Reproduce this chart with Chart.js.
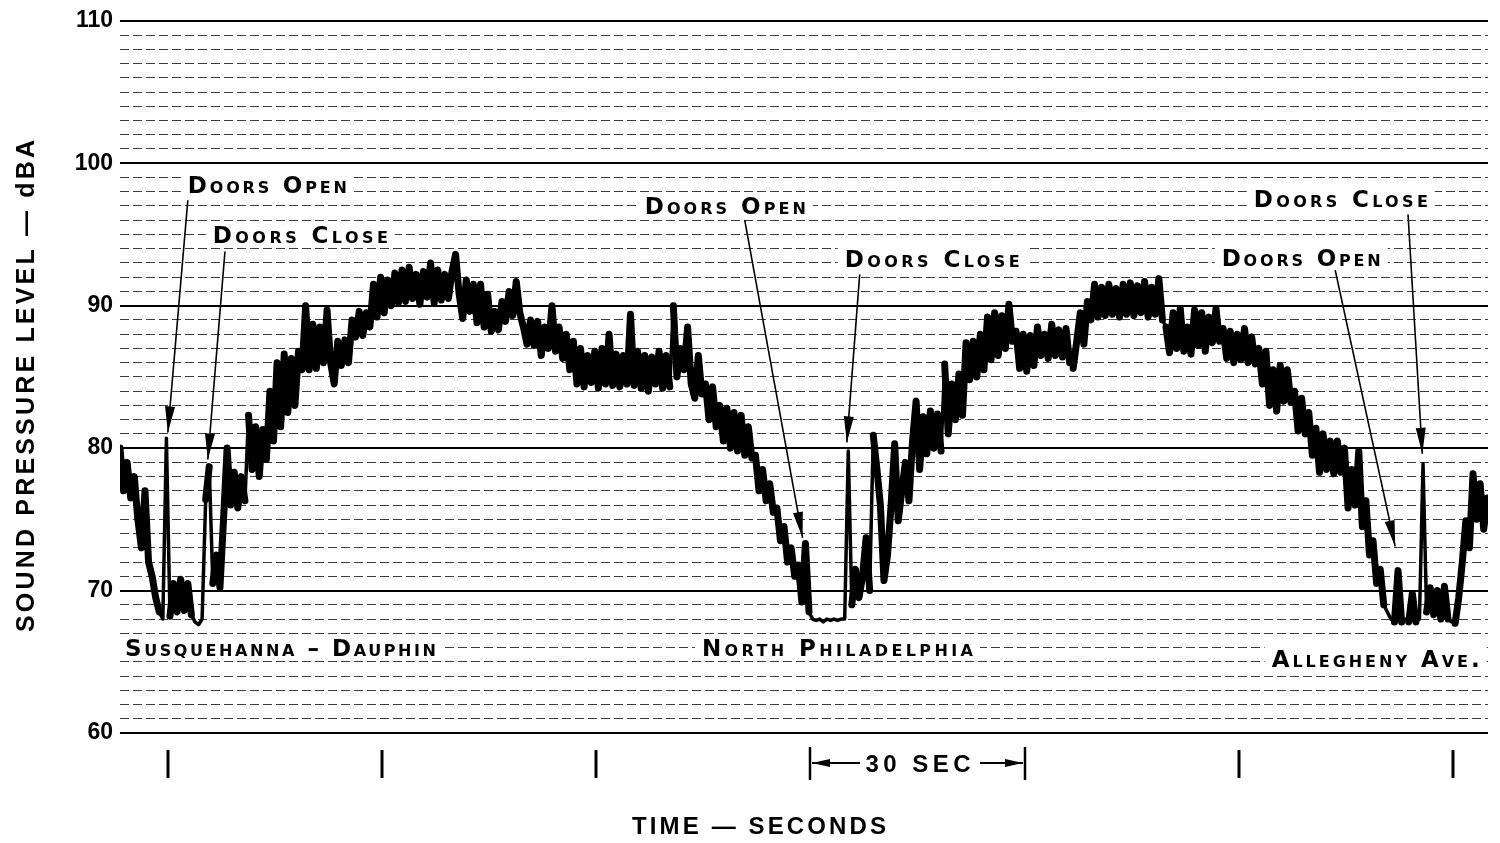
<!DOCTYPE html>
<html>
<head>
<meta charset="utf-8">
<script src="https://cdn.jsdelivr.net/npm/chart.js@4.4.1/dist/chart.umd.min.js"></script>
<style>
  html, body { margin: 0; padding: 0; background: #fff; }
</style>
</head>
<body>
<canvas id="chart" width="1500" height="843"></canvas>
<script>
// ! DATA — sound level, one reading every half second
const sampleStep = 0.5;
const splDba = [
  80, 77, 79, 76.5, 78, 75, 73, 77, 72, 71, 69.5, 68.5, 68, 80.7, 68.2, 70.5, 68.5, 70.8, 68.6, 70.5,
  68.3, 67.8, 67.6, 68, 76.4, 78.7, 70.5, 72.5, 70.2, 75, 80, 76, 78.3, 75.8, 78, 76.3, 82.3, 78.5, 81.5, 78,
  81.3, 79.2, 84, 80.5, 86, 81.5, 86.6, 82.5, 86.3, 83, 86.8, 85.5, 90, 85.5, 88.7, 85.6, 88.5, 86, 89.7, 86,
  84.5, 87.5, 85.8, 87.6, 86, 89, 87.8, 89.6, 87.9, 89.5, 88.5, 91.5, 89.2, 92, 89.5, 91.8, 90, 92.3, 90.2, 92.5,
  90.3, 92.7, 90.5, 92.2, 90.1, 92.4, 90.6, 93, 90.2, 92.5, 90.4, 92.2, 90.5, 92.4, 93.6, 90.8, 89.1, 91.8, 89.6, 91.5,
  88.8, 91.5, 88.5, 90.8, 88.2, 89.6, 88.3, 90.3, 88.9, 91, 89.3, 91.7, 89.5, 88.5, 87.3, 89, 87.2, 88.9, 86.5, 88.5,
  87, 90, 86.8, 88.5, 86.3, 88, 85.5, 87.5, 84.5, 87, 84.3, 86.5, 84.6, 86.8, 84.2, 87, 84.5, 88, 84.4, 86.6,
  84.3, 86.5, 84.5, 89.4, 84.4, 86.8, 84.2, 86.5, 84, 86.4, 84.5, 86.8, 84.2, 86.5, 84.3, 90, 85, 87, 85.5, 88.5,
  84.5, 83.5, 86.5, 83.8, 84.5, 82, 84.3, 81.5, 83, 80.5, 82.8, 80, 82.5, 79.8, 82.3, 79.5, 81.5, 79.3, 79.5, 77,
  78.5, 76.3, 77.5, 75.5, 75.8, 73.5, 74.5, 72, 73, 71, 71.8, 69.2, 73.3, 68.5, 68, 67.9, 68, 67.8, 68, 67.9,
  68, 67.9, 68, 68, 79.8, 69, 71.5, 69.5, 71, 73.7, 70, 80.9, 78.6, 76, 70.7, 72.5, 76, 80.3, 74.9, 77,
  79, 76.3, 80.5, 83.3, 78.5, 82.2, 79.6, 82.6, 80, 82.4, 79.8, 85.9, 81, 84.5, 82, 85.2, 82.3, 87.4, 84.8, 87.5,
  85, 88, 85.5, 89.2, 86.2, 89.5, 86.5, 89.3, 87, 90.1, 87.5, 88.2, 85.6, 88, 85.4, 87.9, 85.8, 88.5, 86.5, 88,
  86.3, 88.7, 86.5, 88.3, 86.4, 88.4, 86, 85.6, 87.5, 89.5, 87.3, 90.3, 89, 91.5, 89.2, 91.3, 89.3, 91.5, 89.4, 91.2,
  89.2, 91.5, 89.4, 91.6, 89.3, 91.4, 89.5, 91.7, 89.2, 91.3, 89.4, 91.9, 89, 88.5, 86.7, 89.5, 87, 89.8, 86.8, 88.5,
  86.6, 89.7, 87.2, 89.5, 86.8, 89.2, 87.4, 89.8, 87.5, 88.4, 86.3, 88.2, 86, 88, 86.2, 88.4, 86, 87.8, 85.9, 87,
  84.5, 86.8, 83, 85.5, 82.6, 85.8, 83.3, 85.5, 83.2, 84, 81.2, 83.5, 81, 82.5, 79.5, 81.4, 78.3, 81, 78.5, 80.5,
  78.2, 80.5, 78.3, 80, 75.8, 78.5, 76, 79.8, 74.5, 76.3, 72.5, 73.5, 70.5, 71.5, 69, 68.5, 68, 67.8, 71.4, 67.8,
  68, 67.8, 69.8, 67.8, 68, 78.9, 68.5, 70.2, 68.3, 70, 68, 70.3, 68, 67.8, 67.7, 69.5, 72, 74.9, 73, 78.2,
  75, 77.5, 74.3, 76.5
];

// ! AXIS CONSTANTS
const timeRange = [0, 191.6];
const levelRange = [60, 110];
const tickMarkTimes = [6.7, 36.7, 66.7, 156.7, 186.7];
const bracketTimes = [96.7, 126.7];

// ! LABELS (text, time, level, width in px)
const doorLabels = [
  { text: "Doors Open", t: 9.5, db: 98.5, w: 159 },
  { text: "Doors Close", t: 13.0, db: 95.0, w: 175 },
  { text: "Doors Open", t: 73.5, db: 97.0, w: 161 },
  { text: "Doors Close", t: 101.5, db: 93.3, w: 175 },
  { text: "Doors Close", t: 158.8, db: 97.5, w: 174 },
  { text: "Doors Open", t: 154.3, db: 93.4, w: 159 },
];
const doorArrows = [
  { from: [9.5, 97.4], to: [6.7, 81.1] },
  { from: [14.7, 93.8], to: [12.3, 79.2] },
  { from: [87.5, 96.0], to: [95.6, 73.7] },
  { from: [103.6, 92.2], to: [101.8, 80.4] },
  { from: [180.4, 96.4], to: [182.4, 79.6] },
  { from: [170.2, 92.5], to: [178.6, 73.1] },
];
const stationLabels = [
  { text: "Susquehanna – Dauphin", t: 0.7, db: 66.0, w: 311 },
  { text: "North Philadelphia", t: 81.5, db: 66.0, w: 271 },
  { text: "Allegheny Ave.", t: 161.3, db: 65.25, w: 208 },
];

const NUM_FONT = '"Liberation Sans", Arial, sans-serif';
const LETTER_FONT = '"DejaVu Sans", sans-serif';

// ! HELPERS
function spacedText(ctx, text, x, y, width) {
  ctx.letterSpacing = "0px";
  const natural = ctx.measureText(text).width;
  const gap = text.length > 1 ? (width - natural) / (text.length - 1) : 0;
  ctx.letterSpacing = gap + "px";
  ctx.textAlign = "left";
  ctx.fillText(text, x, y);
  ctx.letterSpacing = "0px";
}

function arrow(ctx, x1, y1, x2, y2, len, half) {
  ctx.beginPath();
  ctx.moveTo(x1, y1);
  ctx.lineTo(x2, y2);
  ctx.stroke();
  const a = Math.atan2(y2 - y1, x2 - x1);
  const bx = x2 - len * Math.cos(a);
  const by = y2 - len * Math.sin(a);
  ctx.beginPath();
  ctx.moveTo(x2, y2);
  ctx.lineTo(bx + half * Math.sin(a), by - half * Math.cos(a));
  ctx.lineTo(bx - half * Math.sin(a), by + half * Math.cos(a));
  ctx.closePath();
  ctx.fill();
}

// noisy band swings get a heavy pen, spikes and flat runs a thin one
function penWidth(c) {
  const d = Math.abs(c.p1.parsed.y - c.p0.parsed.y);
  return d < 0.8 || d > 5.5 ? 3.5 : 7;
}

// ! ANNOTATION PLUGIN
const stripNotes = {
  id: "stripNotes",
  afterDraw(chart) {
    const { ctx, chartArea } = chart;
    const xs = chart.scales.x;
    const ys = chart.scales.y;
    const bottom = chartArea.bottom;
    ctx.save();
    ctx.fillStyle = "#000";
    ctx.strokeStyle = "#000";

    // tick marks under the chart
    ctx.lineWidth = 3;
    tickMarkTimes.forEach((t) => {
      const px = Math.round(xs.getPixelForValue(t));
      ctx.beginPath();
      ctx.moveTo(px, bottom + 17);
      ctx.lineTo(px, bottom + 45);
      ctx.stroke();
    });

    // 30 SEC bracket
    const bx1 = Math.round(xs.getPixelForValue(bracketTimes[0]));
    const bx2 = Math.round(xs.getPixelForValue(bracketTimes[1]));
    const by = bottom + 30;
    ctx.lineWidth = 2.5;
    [bx1, bx2].forEach((px) => {
      ctx.beginPath();
      ctx.moveTo(px, bottom + 14);
      ctx.lineTo(px, bottom + 47);
      ctx.stroke();
    });
    ctx.lineWidth = 2;
    arrow(ctx, bx1 + 50, by, bx1 + 2, by, 18, 4);
    arrow(ctx, bx2 - 45, by, bx2 - 2, by, 18, 4);
    ctx.font = "bold 24px " + NUM_FONT;
    ctx.textBaseline = "alphabetic";
    spacedText(ctx, "30 SEC", (bx1 + bx2) / 2 - 52, by + 8.5, 105);

    // axis titles
    ctx.font = "bold 24px " + NUM_FONT;
    spacedText(ctx, "TIME — SECONDS", 632, 834, 254);
    ctx.save();
    ctx.translate(25, 386);
    ctx.rotate(-Math.PI / 2);
    ctx.font = "bold 25px " + NUM_FONT;
    spacedText(ctx, "SOUND PRESSURE LEVEL — dBA", -246, 9, 492);
    ctx.restore();

    // labels with white ground
    const size = 23;
    const capH = size * 0.73;
    ctx.font = "small-caps bold " + size + "px " + LETTER_FONT;
    ctx.fontVariantCaps = "small-caps";
    doorLabels.concat(stationLabels).forEach((l) => {
      const px = xs.getPixelForValue(l.t);
      const py = ys.getPixelForValue(l.db);
      ctx.fillStyle = "#fff";
      ctx.fillRect(px - 7, py - capH / 2 - 4, l.w + 14, capH + 8);
      ctx.fillStyle = "#000";
      spacedText(ctx, l.text, px, py + capH / 2, l.w);
    });
    ctx.fontVariantCaps = "normal";

    // arrows to the door events
    ctx.lineWidth = 1.6;
    doorArrows.forEach((a) => {
      arrow(
        ctx,
        xs.getPixelForValue(a.from[0]), ys.getPixelForValue(a.from[1]),
        xs.getPixelForValue(a.to[0]), ys.getPixelForValue(a.to[1]),
        26, 5
      );
    });
    ctx.restore();
  },
};

// ! CHART
const points = splDba.map((v, i) => ({ x: i * sampleStep, y: v }));

new Chart(document.getElementById("chart").getContext("2d"), {
  type: "line",
  data: {
    datasets: [
      {
        data: points,
        borderColor: "#000",
        borderWidth: 3.5,
        borderJoinStyle: "round",
        borderCapStyle: "round",
        segment: { borderWidth: penWidth },
        pointRadius: 0,
        tension: 0,
        fill: false,
        xAxisID: "x",
        yAxisID: "y",
      },
    ],
  },
  options: {
    responsive: false,
    animation: false,
    devicePixelRatio: 1,
    layout: { padding: { top: 19, right: 12, bottom: 0, left: 0 } },
    plugins: { legend: { display: false }, tooltip: { enabled: false } },
    scales: {
      x: {
        type: "linear",
        min: timeRange[0],
        max: timeRange[1],
        afterFit: (s) => { s.height = 110; },
        ticks: { display: false },
        grid: { display: false },
        border: { display: false },
      },
      y: {
        type: "linear",
        position: "left",
        min: levelRange[0],
        max: levelRange[1],
        afterFit: (s) => { s.width = 120; },
        ticks: {
          stepSize: 10,
          padding: 7,
          color: "#000",
          font: { family: NUM_FONT, size: 23, weight: "bold" },
        },
        grid: { color: "#000", lineWidth: 2, drawTicks: false, z: 1 },
        border: { display: false },
      },
      yMinor: {
        type: "linear",
        position: "left",
        min: levelRange[0],
        max: levelRange[1],
        afterFit: (s) => { s.width = 0; },
        ticks: { display: false, stepSize: 1 },
        grid: {
          drawTicks: false,
          lineWidth: 1,
          color: (c) => (c.tick.value % 10 === 0 ? "rgba(0,0,0,0)" : "#3c3c3c"),
        },
        border: { display: false, dash: [9, 4] },
      },
    },
  },
  plugins: [stripNotes],
});
</script>
</body>
</html>
